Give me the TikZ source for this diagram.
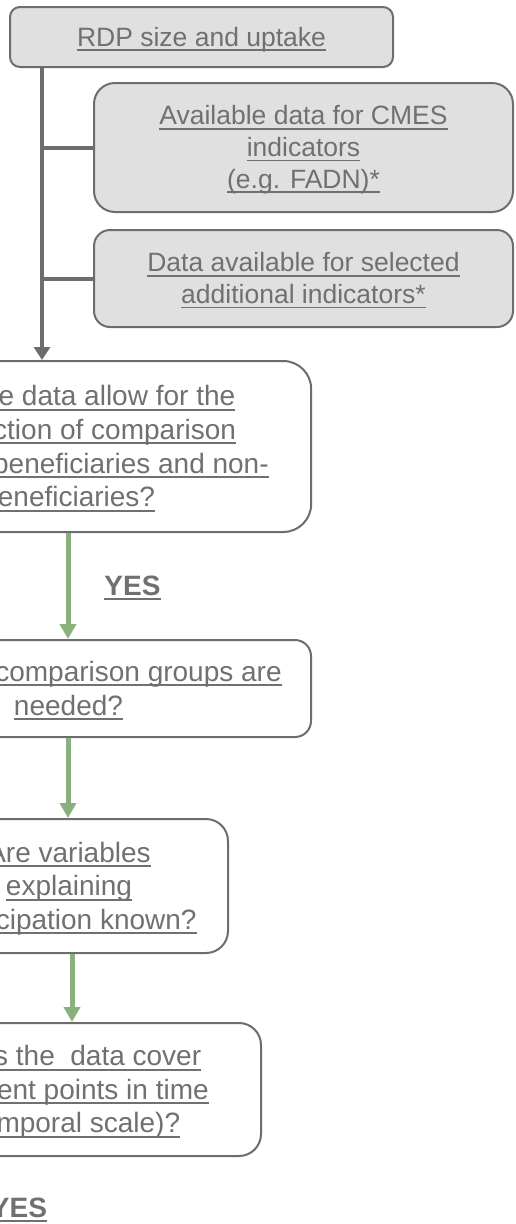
\documentclass[tikz,border=0pt]{standalone}
\usepackage{fontspec}
\setmainfont{Liberation Sans}
\usetikzlibrary{arrows.meta}
\definecolor{txt}{HTML}{707070}
\definecolor{bordc}{HTML}{6D6D6D}
\definecolor{fillc}{HTML}{E0E0E0}
\definecolor{grn}{HTML}{8AB07E}
\newcommand\ulx[1]{\setbox0=\hbox{#1}\rlap{\smash{\rule[-0.18em]{\wd0}{0.07em}}}\rule[-0.212em]{0pt}{1.117em}\box0}
\tikzset{
 topbox/.style={draw=bordc, fill=fillc, line width=2pt, text=txt, align=center, inner sep=0pt, font=\fontsize{26.5}{31.8}\selectfont},
 qbox/.style={draw=bordc, fill=white, line width=2pt, text=txt, align=center, inner sep=0pt, font=\fontsize{28}{33.6}\selectfont},
 trunk/.style={draw=bordc, line width=4pt},
 garrow/.style={draw=grn, line width=5pt, -{Triangle[width=16pt,length=15pt]}},
 yeslbl/.style={text=txt, font=\bfseries\fontsize{28}{33.6}\selectfont, inner sep=0pt, anchor=base}
}
\begin{document}
\begin{tikzpicture}[x=1pt,y=-1pt]
\useasboundingbox (0,0) rectangle (515,1224);
\clip (0,0) rectangle (515,1224);
\coordinate (t) at (42,0);
\coordinate (g1) at (68,0);
\coordinate (g3) at (72,0);

\node[topbox, minimum width=383pt, minimum height=60pt, rounded corners=10pt] (b1) at (201.5,37) {\ulx{RDP size and uptake}};
\node[topbox, minimum width=419pt, minimum height=129pt, rounded corners=21pt] (b2) at (303.5,147.5) {\ulx{Available data for CMES}\\\ulx{indicators}\\\ulx{(e.g. FADN)*}};
\node[topbox, minimum width=419pt, minimum height=97pt, rounded corners=16pt] (b3) at (303.5,278.5) {\ulx{Data available for selected}\\\ulx{additional indicators*}};

\node[qbox, minimum width=485pt, minimum height=171pt, rounded corners=28pt] (b4) at (68.7,446.5) {\ulx{Does the data allow for the}\\\ulx{construction of comparison}\\\ulx{groups of beneficiaries and non-}\\\ulx{beneficiaries?}};
\node[qbox, minimum width=485pt, minimum height=97pt, rounded corners=16pt] (b5) at (68.5,688.5) {\ulx{How many comparison groups are}\\\ulx{needed?}};
\node[qbox, minimum width=318pt, minimum height=134pt, rounded corners=22pt] (b6) at (69,886) {\ulx{Are variables}\\\ulx{explaining}\\\ulx{participation known?}};
\node[qbox, minimum width=378pt, minimum height=133pt, rounded corners=22pt] (b7) at (72,1089.5) {\ulx{Does the~~data cover}\\\ulx{different points in time}\\\ulx{(temporal scale)?}};

\draw[trunk, -{Triangle[width=16pt,length=13pt]}] (t |- b1.south) -- (t |- b4.north);
\draw[trunk] (t |- b2.west) -- (b2.west);
\draw[trunk] (t |- b3.west) -- (b3.west);

\draw[garrow] (g1 |- b4.south) -- (g1 |- b5.north);
\draw[garrow] (g1 |- b5.south) -- (g1 |- b6.north);
\draw[garrow] (g3 |- b6.south) -- (g3 |- b7.north);

\node[yeslbl] (y1) at (132.5,595) {\ulx{YES}};
\node[yeslbl] (y2) at (19,1217) {\ulx{YES}};
\end{tikzpicture}
\end{document}
